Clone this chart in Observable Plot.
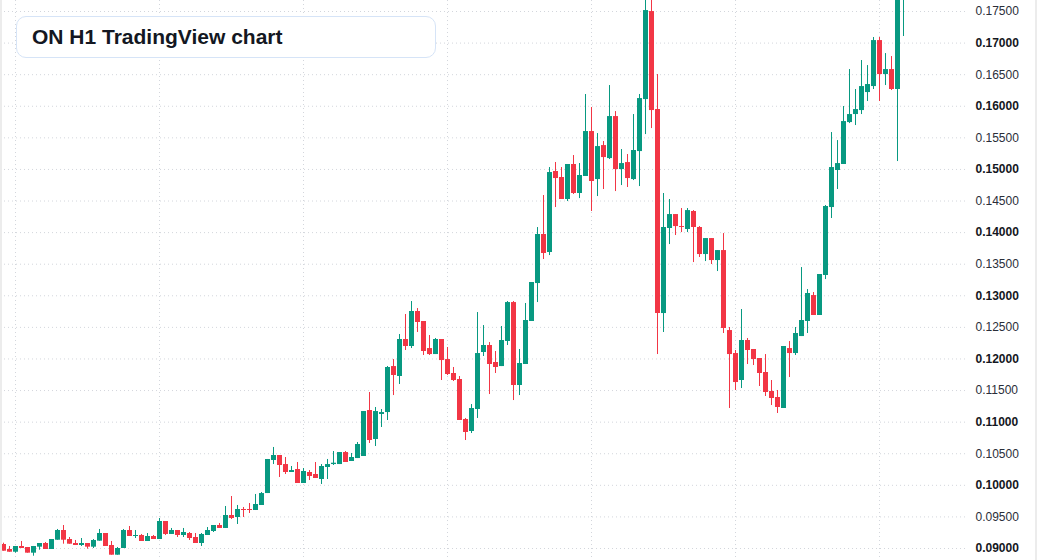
<!DOCTYPE html>
<html><head><meta charset="utf-8">
<script src="https://cdn.jsdelivr.net/npm/d3@7"></script>
<script src="https://cdn.jsdelivr.net/npm/@observablehq/plot@0.6"></script>
<style>
html,body{margin:0;padding:0;background:#fff;}
#wrap{position:relative;width:1037px;height:560px;overflow:hidden;font-family:"Liberation Sans",Arial,sans-serif;}
#chart svg{display:block;}
#title{position:absolute;left:16px;top:16px;width:418px;height:40px;border:1px solid #d6e4f7;border-radius:10px;background:#fff;}
#title span{position:absolute;left:15px;top:50%;transform:translateY(-48%);font-weight:bold;font-size:21px;color:#131722;white-space:nowrap;}
.edge{position:absolute;top:0;width:2px;height:560px;background:#ececec;}
</style></head>
<body>
<div id="wrap">
  <div id="chart"></div>
  <div class="edge" style="left:0"></div>
  <div class="edge" style="right:0"></div>
  <div id="title"><span>ON H1 TradingView chart</span></div>
</div>
<script>
const open = [0.09063,0.08984,0.08941,0.09032,0.09016,0.08926,0.09021,0.09079,0.08984,0.09131,
0.09285,0.09142,0.09079,0.09047,0.09079,0.09021,0.09116,0.09237,0.09047,0.08894,
0.09000,0.09285,0.09190,0.09206,0.09111,0.09190,0.09142,0.09427,0.09222,0.09285,
0.09206,0.09237,0.09174,0.09079,0.09206,0.09269,0.09364,0.09317,0.09522,0.09491,
0.09617,0.09617,0.09601,0.09681,0.09870,0.10393,0.10472,0.10329,0.10203,0.10250,
0.10029,0.10203,0.10171,0.10092,0.10282,0.10329,0.10329,0.10519,0.10377,0.10424,
0.10456,0.11184,0.10725,0.11121,0.11152,0.11880,0.11722,0.12308,0.12197,0.12751,
0.12593,0.12165,0.12070,0.12308,0.11991,0.11770,0.11675,0.11042,0.10852,0.11200,
0.12102,0.12213,0.11944,0.11880,0.12276,0.12893,0.11580,0.11912,0.12593,0.13194,
0.13970,0.13685,0.14967,0.14872,0.14524,0.15078,0.14619,0.14888,0.15600,0.14840,
0.15378,0.15172,0.15837,0.14998,0.15109,0.14840,0.15283,0.16106,0.17499,0.15948,
0.12719,0.14065,0.14286,0.14096,0.14049,0.14334,0.14081,0.13653,0.13906,0.13558,
0.13716,0.12450,0.12086,0.11659,0.12292,0.12150,0.12007,0.11786,0.11485,0.11390,
0.11216,0.12165,0.12086,0.12355,0.12593,0.13004,0.12688,0.13321,0.14397,0.14983,
0.15078,0.15742,0.15869,0.15932,0.16217,0.16312,0.17040,0.16502,0.16581,0.16265,
0.17900];
const high = [0.09084,0.09032,0.09032,0.09111,0.09016,0.09032,0.09079,0.09095,0.09142,0.09301,
0.09364,0.09174,0.09127,0.09158,0.09079,0.09142,0.09301,0.09237,0.09111,0.09016,
0.09301,0.09348,0.09285,0.09222,0.09237,0.09206,0.09475,0.09427,0.09317,0.09285,
0.09317,0.09253,0.09237,0.09237,0.09332,0.09364,0.09396,0.09665,0.09823,0.09681,
0.09649,0.09712,0.09855,0.09886,0.10409,0.10599,0.10472,0.10440,0.10298,0.10361,
0.10266,0.10234,0.10361,0.10329,0.10409,0.10535,0.10519,0.10535,0.10504,0.10678,
0.11168,0.11469,0.11232,0.11200,0.11881,0.11991,0.12387,0.12704,0.12909,0.12798,
0.12593,0.12371,0.12324,0.12308,0.12181,0.11865,0.11722,0.11058,0.11279,0.12735,
0.12529,0.12260,0.12118,0.12514,0.12909,0.12909,0.12150,0.12878,0.13210,0.14080,
0.14587,0.15030,0.15110,0.15030,0.15078,0.15220,0.15094,0.16186,0.15980,0.15568,
0.15442,0.16328,0.15916,0.15315,0.15236,0.15869,0.16186,0.17800,0.17750,0.16502,
0.14619,0.14524,0.14286,0.14381,0.14381,0.14349,0.14096,0.13906,0.13906,0.13716,
0.13985,0.12498,0.12134,0.12783,0.12324,0.12150,0.12007,0.12070,0.11659,0.11501,
0.12197,0.12276,0.12498,0.13447,0.13099,0.13052,0.13337,0.14429,0.15584,0.15457,
0.15996,0.16581,0.16265,0.16724,0.16644,0.17088,0.17088,0.16834,0.16787,0.17900,
0.18150];
const low = [0.08957,0.08941,0.08926,0.09000,0.08926,0.08878,0.08973,0.08984,0.08984,0.09131,
0.09068,0.09068,0.09047,0.09032,0.08989,0.09000,0.09116,0.09032,0.08894,0.08894,
0.09000,0.09190,0.09158,0.09111,0.09111,0.09142,0.09142,0.09206,0.09222,0.09174,
0.09174,0.09127,0.09079,0.09032,0.09206,0.09253,0.09317,0.09317,0.09459,0.09380,
0.09491,0.09554,0.09601,0.09681,0.09870,0.10329,0.10124,0.10171,0.10203,0.10029,
0.10029,0.10076,0.10108,0.10013,0.10092,0.10314,0.10329,0.10361,0.10377,0.10424,
0.10456,0.10662,0.10614,0.10915,0.11026,0.11421,0.11596,0.12134,0.12165,0.12419,
0.12055,0.12055,0.12070,0.11659,0.11738,0.11643,0.11026,0.10709,0.10820,0.11058,
0.12039,0.11437,0.11770,0.11880,0.12213,0.11342,0.11421,0.11912,0.12593,0.12893,
0.13574,0.13637,0.14397,0.14524,0.14492,0.14603,0.14539,0.14888,0.14334,0.14571,
0.14682,0.15157,0.14650,0.14745,0.14714,0.14824,0.14729,0.15552,0.15647,0.12070,
0.12419,0.13811,0.13954,0.14001,0.14001,0.13526,0.13606,0.13542,0.13495,0.13384,
0.12403,0.11216,0.11501,0.11532,0.11912,0.11896,0.11564,0.11406,0.11263,0.11137,
0.11216,0.11706,0.12055,0.12355,0.12403,0.12688,0.12688,0.13257,0.14223,0.14682,
0.15078,0.15726,0.15695,0.15869,0.16075,0.16265,0.16075,0.16328,0.16249,0.15125,
0.17104];
const close = [0.08957,0.08941,0.09032,0.09000,0.08926,0.09032,0.09079,0.08984,0.09142,0.09285,
0.09131,0.09068,0.09047,0.09079,0.09021,0.09127,0.09237,0.09032,0.08894,0.09000,
0.09285,0.09190,0.09206,0.09111,0.09190,0.09142,0.09427,0.09222,0.09285,0.09206,
0.09253,0.09158,0.09079,0.09222,0.09285,0.09364,0.09317,0.09522,0.09475,0.09617,
0.09601,0.09601,0.09696,0.09870,0.10409,0.10472,0.10314,0.10203,0.10234,0.10029,
0.10219,0.10140,0.10108,0.10298,0.10329,0.10350,0.10519,0.10361,0.10440,0.10646,
0.11168,0.10709,0.11168,0.11152,0.11865,0.11738,0.12308,0.12197,0.12751,0.12577,
0.12118,0.12070,0.12308,0.11975,0.11754,0.11659,0.11026,0.10836,0.11216,0.12086,
0.12213,0.11912,0.11865,0.12292,0.12893,0.11580,0.11928,0.12609,0.13210,0.13970,
0.13669,0.14951,0.14856,0.14524,0.15078,0.14619,0.14904,0.15600,0.14809,0.15362,
0.15188,0.15837,0.14998,0.15093,0.14856,0.15300,0.16122,0.17515,0.15932,0.12719,
0.14081,0.14286,0.14096,0.14081,0.14349,0.14081,0.13653,0.13906,0.13558,0.13716,
0.12482,0.12070,0.11627,0.12292,0.12134,0.11991,0.11770,0.11469,0.11374,0.11232,
0.12197,0.12086,0.12403,0.12609,0.13036,0.12688,0.13337,0.14413,0.15030,0.15093,
0.15758,0.15869,0.15948,0.16312,0.16344,0.17040,0.16502,0.16581,0.16265,0.17900,
0.18050];
const boldTicks = [0.09,0.10,0.11,0.12,0.13,0.14,0.15,0.16,0.17];
const lightTicks = [0.095,0.105,0.115,0.125,0.135,0.145,0.155,0.165,0.175];
const gridTicks = [0.09,0.095,0.10,0.105,0.11,0.115,0.12,0.125,0.13,0.135,0.14,0.145,0.15,0.155,0.16,0.165,0.17,0.175];
const dayIdx = [2,26,50,74,98,122,146];

const UP = "#089981", DOWN = "#F23645", GRID = "#d3d6dc";
const candles = open.map((o,i)=>({i, open:o, high:high[i], low:low[i], close:close[i]}));
const col = d => d.close >= d.open ? UP : DOWN;
const fmt = d3.format(".5f");

const chart = Plot.plot({
  width:1037, height:560,
  marginLeft:0, marginRight:72, marginTop:0, marginBottom:0,
  x:{domain:[-0.5,160.3333], axis:null},
  y:{domain:[0.0881,0.176741], axis:null},
  style:{fontFamily:"'Liberation Sans', Arial, sans-serif", fontSize:"12px", color:"#131722", background:"transparent"},
  marks:[
    Plot.ruleY(gridTicks, {y:d=>d, stroke:GRID, strokeDasharray:"1,3"}),
    Plot.ruleX(dayIdx, {x:d=>d, stroke:GRID, strokeDasharray:"1,3"}),
    Plot.ruleX(candles, {x:"i", y1:"low", y2:"high", stroke:col, strokeWidth:1, clip:true}),
    Plot.ruleX(candles, {x:"i", y1:"open", y2:"close", stroke:col, strokeWidth:5, clip:true}),
    Plot.axisY(boldTicks, {anchor:"right", tickSize:0, tickPadding:10, tickFormat:fmt, fontWeight:"bold", fill:"#131722"}),
    Plot.axisY(lightTicks, {anchor:"right", tickSize:0, tickPadding:10, tickFormat:fmt, fill:"#2a2e39"})
  ]
});
document.getElementById("chart").appendChild(chart);
</script>
</body></html>
